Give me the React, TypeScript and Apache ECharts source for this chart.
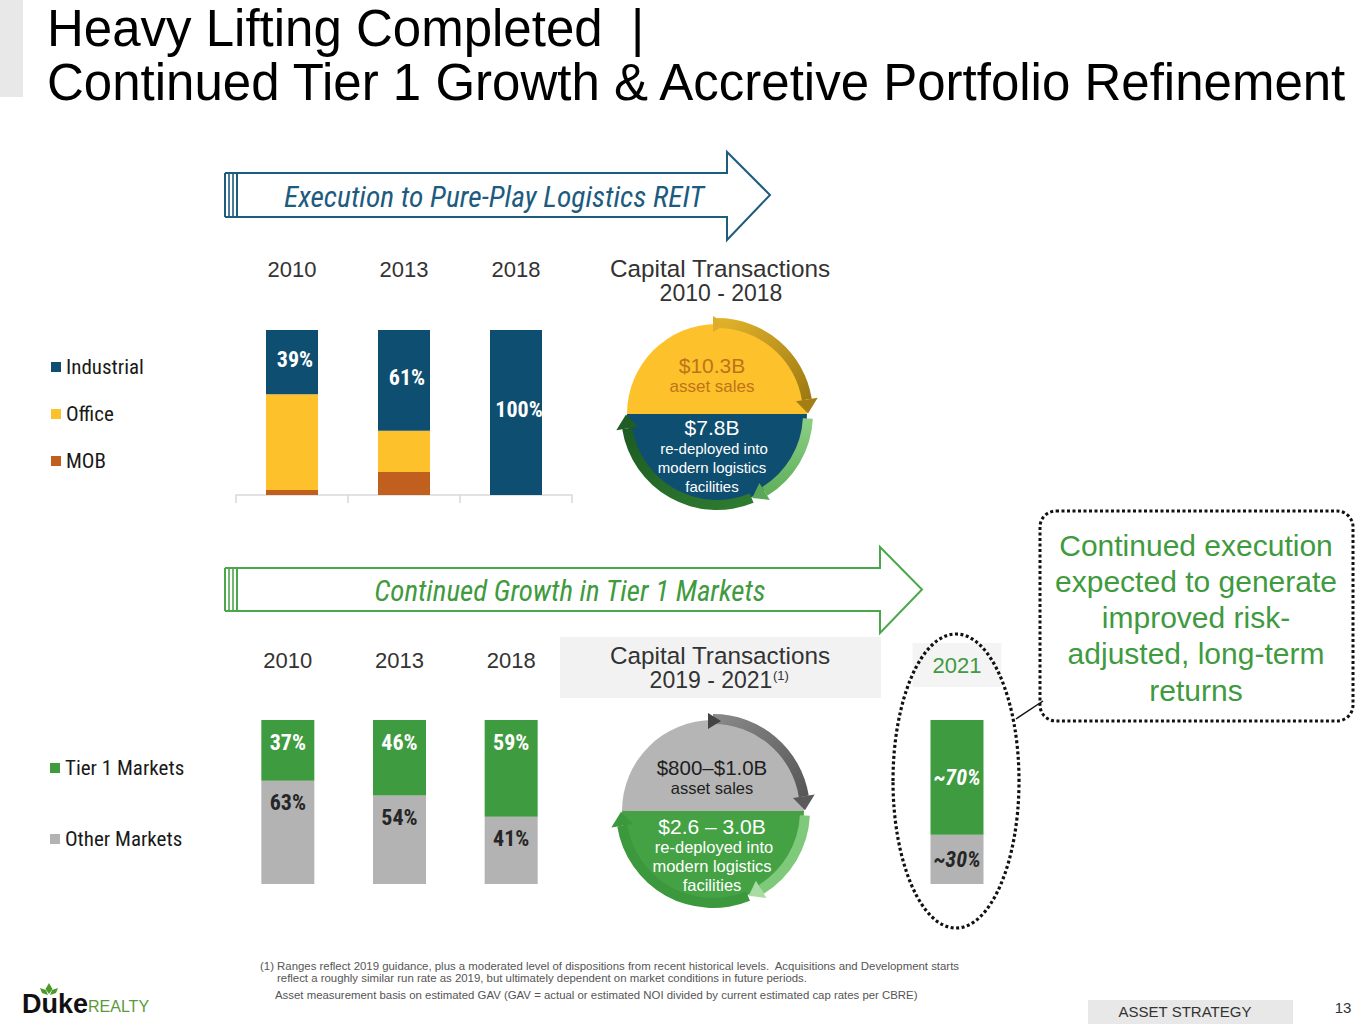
import React, { useEffect, useRef } from "react";
import * as echarts from "echarts";

const titleLines = ["Heavy Lifting Completed  |", "Continued Tier 1 Growth & Accretive Portfolio Refinement"];
const years = ["2010", "2013", "2018"];
const industrial = [39, 61, 100];
const office = [58, 25, 0];
const mob = [3, 14, 0];
const tier1 = [37, 46, 59];
const otherMarkets = [63, 54, 41];
const year2021 = ["2021"];
const tier1In2021 = [70];
const otherIn2021 = [30];
const tier1In2021Labels = ["~70%"];
const otherIn2021Labels = ["~30%"];
const arrowTitles = ["Execution to Pure-Play Logistics REIT", "Continued Growth in Tier 1 Markets"];
const capTxTop = ["Capital Transactions", "2010 - 2018"];
const capTxBottom = ["Capital Transactions", "2019 - 2021", "(1)"];
const circleTop = ["$10.3B", "asset sales", "$7.8B", "re-deployed into", "modern logistics", "facilities"];
const circleBottom = ["$800–$1.0B", "asset sales", "$2.6 – 3.0B", "re-deployed into", "modern logistics", "facilities"];
const calloutLines = ["Continued execution", "expected to generate", "improved risk-", "adjusted, long-term", "returns"];
const footnotes = [
  "(1) Ranges reflect 2019 guidance, plus a moderated level of dispositions from recent historical levels.  Acquisitions and Development starts",
  "reflect a roughly similar run rate as 2019, but ultimately dependent on market conditions in future periods.",
  "Asset measurement basis on estimated GAV (GAV = actual or estimated NOI divided by current estimated cap rates per CBRE)",
];
const pageTag = "ASSET STRATEGY";
const pageNum = "13";

const SANS = "'Liberation Sans', Arial, Helvetica, sans-serif";
const NARROW = "'Liberation Sans Narrow', 'Arial Narrow', 'Roboto Condensed', 'DejaVu Sans Condensed', sans-serif";

const C_IND = "#0e4e70";
const C_OFF = "#fdc12b";
const C_MOB = "#c1601e";
const C_T1 = "#3f9b3f";
const C_OTH = "#b3b3b3";
const C_TEAL = "#1d5b7f";
const C_GREEN_TXT = "#3f9a40";

function T(x: number, y: number, text: string, o: any = {}) {
  const align = o.align ?? "center";
  return {
    type: "text",
    x,
    y,
    silent: true,
    z: 20,
    style: {
      text,
      fill: o.fill ?? "#222",
      fontSize: o.size ?? 16,
      fontFamily: o.family ?? SANS,
      fontWeight: o.weight ?? "normal",
      fontStyle: o.fstyle ?? "normal",
      align,
      verticalAlign: "middle",
      textAlign: align,
      textVerticalAlign: "middle",
    },
  };
}

function arrowHead(cx: number, cy: number, rm: number, halfW: number, angle: number, len: number, fill: any) {
  const a2 = angle + len / rm;
  const p = (r: number, a: number) => [cx + r * Math.cos(a), cy + r * Math.sin(a)];
  return {
    type: "polygon",
    z: 12,
    shape: { points: [p(rm - halfW, angle), p(rm + halfW, angle), p(rm, a2)] },
    style: { fill },
  };
}

function ringSeg(cx: number, cy: number, r0: number, r: number, a0: number, a1: number, fill: any) {
  return {
    type: "sector",
    z: 11,
    shape: { cx, cy, r0, r, startAngle: a0, endAngle: a1, clockwise: true },
    style: { fill },
  };
}

function bigArrow(x0: number, yTop: number, yBot: number, headX: number, headTop: number, headBot: number, tipX: number, stroke: string) {
  const midY = (yTop + yBot) / 2;
  const els: any[] = [
    {
      type: "polygon",
      z: 5,
      shape: {
        points: [
          [x0 + 12, yTop], [headX, yTop], [headX, headTop], [tipX, midY],
          [headX, headBot], [headX, yBot], [x0 + 12, yBot],
        ],
      },
      style: { fill: "#ffffff", stroke, lineWidth: 2 },
    },
  ];
  [0, 4, 8].forEach((dx) => {
    els.push({
      type: "line",
      z: 5,
      shape: { x1: x0 + dx, y1: yTop, x2: x0 + dx, y2: yBot },
      style: { stroke, lineWidth: dx === 0 ? 2 : 1.6 },
    });
  });
  els.push({
    type: "polyline",
    z: 5,
    shape: { points: [[x0, yTop], [x0 + 12, yTop]] },
    style: { stroke, lineWidth: 2 },
  });
  els.push({
    type: "polyline",
    z: 5,
    shape: { points: [[x0, yBot], [x0 + 12, yBot]] },
    style: { stroke, lineWidth: 2 },
  });
  return els;
}

function buildGraphics() {
  const g: any[] = [];
  // title block
  g.push({ type: "rect", z: 1, shape: { x: 0, y: 0, width: 23, height: 97 }, style: { fill: "#e8e8e8" } });
  g.push(T(47, 28, titleLines[0], { size: 51, align: "left", fill: "#000" }));
  g.push(T(47, 82, titleLines[1], { size: 51, align: "left", fill: "#000" }));

  // arrows
  g.push(...bigArrow(225, 173, 217, 727, 152, 240, 770, C_TEAL));
  g.push(T(494, 197, arrowTitles[0], { size: 29.5, family: NARROW, fstyle: "italic", fill: C_TEAL }));
  g.push(...bigArrow(225, 568, 611, 880, 547, 633, 922, "#4aa84b"));
  g.push(T(570, 591, arrowTitles[1], { size: 29, family: NARROW, fstyle: "italic", fill: C_GREEN_TXT }));

  // capital transactions headings
  g.push(T(720, 268, capTxTop[0], { size: 24.3, fill: "#333" }));
  g.push(T(721, 293, capTxTop[1], { size: 23, fill: "#333" }));
  g.push({ type: "rect", z: 1, shape: { x: 560, y: 637, width: 321, height: 61 }, style: { fill: "#f2f2f2" } });
  g.push(T(720, 655, capTxBottom[0], { size: 24.3, fill: "#333" }));
  g.push(T(711, 680, capTxBottom[1], { size: 23, fill: "#333" }));
  g.push(T(773, 675, capTxBottom[2], { size: 13, fill: "#333", align: "left" }));

  // top circle
  const cx1 = 717, cy1 = 414, rf1 = 90;
  g.push({ type: "sector", z: 10, shape: { cx: cx1, cy: cy1, r0: 0, r: rf1, startAngle: Math.PI, endAngle: 2 * Math.PI, clockwise: true }, style: { fill: C_OFF } });
  g.push({ type: "sector", z: 10, shape: { cx: cx1, cy: cy1, r0: 0, r: rf1, startAngle: 0, endAngle: Math.PI, clockwise: true }, style: { fill: C_IND } });
  const gold = new echarts.graphic.LinearGradient(0, 0, 1, 1, [
    { offset: 0, color: "#e3b52c" },
    { offset: 1, color: "#9c7812" },
  ]);
  g.push(ringSeg(cx1, cy1, 86, 96, -Math.PI / 2, -0.16, gold));
  g.push(arrowHead(cx1, cy1, 91, 11, -0.16, 14, "#a47e14"));
  g.push({ type: "polygon", z: 13, shape: { points: [[713, 316], [726, 324], [713, 332]] }, style: { fill: "#e0ad2a" } });
  const lg1 = new echarts.graphic.LinearGradient(0, 0, 0, 1, [
    { offset: 0, color: "#8ccf86" },
    { offset: 1, color: "#5fae59" },
  ]);
  g.push(ringSeg(cx1, cy1, 86, 96, 0.05, 1.02, lg1));
  g.push(arrowHead(cx1, cy1, 91, 10, 1.02, 14, "#5aa855"));
  const dg1 = new echarts.graphic.LinearGradient(1, 1, 0, 0, [
    { offset: 0, color: "#2f7d31" },
    { offset: 1, color: "#1c5a22" },
  ]);
  g.push(ringSeg(cx1, cy1, 86, 96, 1.18, Math.PI - 0.16, dg1));
  g.push(arrowHead(cx1, cy1, 91, 11, Math.PI - 0.16, 14, "#1f5d24"));
  g.push(T(712, 365, circleTop[0], { size: 21, fill: "#bd7419" }));
  g.push(T(712, 386, circleTop[1], { size: 17, fill: "#bd7419" }));
  g.push(T(712, 427, circleTop[2], { size: 21, fill: "#ffffff" }));
  g.push(T(714, 448, circleTop[3], { size: 15, fill: "#ffffff" }));
  g.push(T(712, 467, circleTop[4], { size: 15, fill: "#ffffff" }));
  g.push(T(712, 486, circleTop[5], { size: 15, fill: "#ffffff" }));

  // bottom circle
  const cx2 = 713, cy2 = 811, rf2 = 91;
  g.push({ type: "sector", z: 10, shape: { cx: cx2, cy: cy2, r0: 0, r: rf2, startAngle: Math.PI, endAngle: 2 * Math.PI, clockwise: true }, style: { fill: "#b5b5b5" } });
  g.push({ type: "sector", z: 10, shape: { cx: cx2, cy: cy2, r0: 0, r: rf2, startAngle: 0, endAngle: Math.PI, clockwise: true }, style: { fill: "#44a244" } });
  const grayRing = new echarts.graphic.LinearGradient(0, 0, 1, 1, [
    { offset: 0, color: "#8a8a8a" },
    { offset: 1, color: "#555555" },
  ]);
  g.push(ringSeg(cx2, cy2, 87, 97, -Math.PI / 2, -0.16, grayRing));
  g.push(arrowHead(cx2, cy2, 92, 11, -0.16, 14, "#5a5a5a"));
  g.push({ type: "polygon", z: 13, shape: { points: [[708, 713], [721, 721], [708, 729]] }, style: { fill: "#444" } });
  g.push(ringSeg(cx2, cy2, 87, 97, 0.05, 1.02, "#7fc97a"));
  g.push(arrowHead(cx2, cy2, 92, 10, 1.02, 14, "#a8dca2"));
  g.push(ringSeg(cx2, cy2, 87, 97, 1.18, Math.PI - 0.16, "#3c983c"));
  g.push(arrowHead(cx2, cy2, 92, 11, Math.PI - 0.16, 14, "#3c983c"));
  g.push(T(712, 767, circleBottom[0], { size: 20.5, fill: "#1e1e1e" }));
  g.push(T(712, 788, circleBottom[1], { size: 16.5, fill: "#1e1e1e" }));
  g.push(T(712, 826, circleBottom[2], { size: 21, fill: "#ffffff" }));
  g.push(T(714, 847, circleBottom[3], { size: 16.5, fill: "#ffffff" }));
  g.push(T(712, 866, circleBottom[4], { size: 16.5, fill: "#ffffff" }));
  g.push(T(712, 885, circleBottom[5], { size: 16.5, fill: "#ffffff" }));

  // 2021 dotted ellipse + callout
  g.push({
    type: "ellipse",
    z: 6,
    shape: { cx: 956, cy: 781, rx: 63, ry: 147 },
    style: { fill: null, stroke: "#111", lineWidth: 3.2, lineDash: [3, 2.5] },
  });
  g.push({
    type: "line",
    z: 6,
    shape: { x1: 1016, y1: 719, x2: 1043, y2: 701 },
    style: { stroke: "#111", lineWidth: 1.5 },
  });
  g.push({
    type: "rect",
    z: 6,
    shape: { x: 1040, y: 511, width: 313, height: 210, r: 16 },
    style: { fill: null, stroke: "#111", lineWidth: 3, lineDash: [3, 2.5] },
  });
  calloutLines.forEach((line, i) => {
    g.push(T(1196, 545 + i * 36.3, line, { size: 30, fill: C_GREEN_TXT }));
  });

  // footnotes
  g.push(T(260, 966, footnotes[0], { size: 11.4, fill: "#555", align: "left" }));
  g.push(T(277, 978, footnotes[1], { size: 11.4, fill: "#555", align: "left" }));
  g.push(T(275, 995, footnotes[2], { size: 11.4, fill: "#555", align: "left" }));

  // footer
  g.push({ type: "rect", z: 1, shape: { x: 1088, y: 1000, width: 205, height: 24 }, style: { fill: "#e8e8e8" } });
  g.push(T(1185, 1011, pageTag, { size: 15, fill: "#333" }));
  g.push(T(1343, 1007, pageNum, { size: 15, fill: "#333" }));

  // logo
  g.push(T(22, 1004, "Duke", { size: 27, weight: "bold", fill: "#111", align: "left" }));
  g.push(T(88, 1006, "REALTY", { size: 16, fill: "#5b9a3c", align: "left" }));
  g.push({ type: "polygon", z: 20, shape: { points: [[49, 983], [52.5, 989], [49, 994], [45.5, 989]] }, style: { fill: "#4c9a2a" } });
  g.push({ type: "polygon", z: 20, shape: { points: [[40, 988], [46, 990], [48, 995], [42, 993]] }, style: { fill: "#4c9a2a" } });
  g.push({ type: "polygon", z: 20, shape: { points: [[58, 988], [52, 990], [50, 995], [56, 993]] }, style: { fill: "#4c9a2a" } });

  return g;
}

function buildOption() {
  const pctFmt = (p: any) => `${p.value}%`;
  const whiteLbl = { color: "#ffffff", fontSize: 22, fontWeight: "bold", fontFamily: NARROW };
  const darkLbl = { color: "#262626", fontSize: 22, fontWeight: "bold", fontFamily: NARROW };
  const yearLbl = { fontSize: 22, color: "#333", fontFamily: SANS };
  const legendText = { fontSize: 21, lineHeight: 26, color: "#1a1a1a", fontFamily: NARROW };
  return {
    animation: false,
    backgroundColor: "#ffffff",
    graphic: { elements: buildGraphics() },
    legend: [
      {
        orient: "vertical",
        left: 46,
        top: 349,
        itemGap: 21,
        itemWidth: 10,
        itemHeight: 10,
        icon: "rect",
        selectedMode: false,
        data: ["Industrial", "Office", "MOB"],
        textStyle: legendText,
      },
      {
        orient: "vertical",
        left: 45,
        top: 750,
        itemGap: 45,
        itemWidth: 10,
        itemHeight: 10,
        icon: "rect",
        selectedMode: false,
        data: ["Tier 1 Markets", "Other Markets"],
        textStyle: legendText,
      },
    ],
    grid: [
      { left: 236, top: 330, width: 336, height: 165 },
      { left: 232, top: 720, width: 335, height: 164 },
      { left: 901, top: 720, width: 112, height: 164 },
    ],
    xAxis: [
      {
        gridIndex: 0,
        type: "category",
        data: years,
        position: "bottom",
        axisLine: { show: true, lineStyle: { color: "#d9d9d9", width: 1.5 } },
        axisTick: { show: true, length: 8, lineStyle: { color: "#d9d9d9", width: 1.5 } },
        axisLabel: { show: false },
      },
      {
        gridIndex: 0,
        type: "category",
        data: years,
        position: "top",
        axisLine: { show: false },
        axisTick: { show: false },
        axisLabel: { margin: 50, ...yearLbl },
      },
      {
        gridIndex: 1,
        type: "category",
        data: years,
        position: "top",
        axisLine: { show: false },
        axisTick: { show: false },
        axisLabel: { margin: 49, ...yearLbl },
      },
      {
        gridIndex: 2,
        type: "category",
        data: year2021,
        position: "top",
        axisLine: { show: false },
        axisTick: { show: false },
        axisLabel: {
          margin: 33,
          fontSize: 22,
          color: C_GREEN_TXT,
          fontFamily: SANS,
          backgroundColor: "#f4f4f4",
          padding: [11, 20],
        },
      },
    ],
    yAxis: [
      { gridIndex: 0, type: "value", min: 0, max: 100, show: false },
      { gridIndex: 1, type: "value", min: 0, max: 100, show: false },
      { gridIndex: 2, type: "value", min: 0, max: 100, show: false },
    ],
    series: [
      { name: "MOB", type: "bar", stack: "top", xAxisIndex: 0, yAxisIndex: 0, data: mob, barWidth: 52, itemStyle: { color: C_MOB } },
      { name: "Office", type: "bar", stack: "top", xAxisIndex: 0, yAxisIndex: 0, data: office, barWidth: 52, itemStyle: { color: C_OFF } },
      {
        name: "Industrial",
        type: "bar",
        stack: "top",
        xAxisIndex: 0,
        yAxisIndex: 0,
        data: industrial,
        barWidth: 52,
        itemStyle: { color: C_IND },
        label: { show: true, position: "inside", offset: [3, -3], formatter: pctFmt, ...whiteLbl },
      },
      {
        name: "Other Markets",
        type: "bar",
        stack: "bottom",
        xAxisIndex: 2,
        yAxisIndex: 1,
        data: otherMarkets,
        barWidth: 53,
        itemStyle: { color: C_OTH },
        label: { show: true, position: "insideTop", distance: 11, formatter: pctFmt, ...darkLbl },
      },
      {
        name: "Tier 1 Markets",
        type: "bar",
        stack: "bottom",
        xAxisIndex: 2,
        yAxisIndex: 1,
        data: tier1,
        barWidth: 53,
        itemStyle: { color: C_T1 },
        label: { show: true, position: "insideTop", distance: 11, formatter: pctFmt, ...whiteLbl },
      },
      {
        name: "Other Markets",
        type: "bar",
        stack: "y2021",
        xAxisIndex: 3,
        yAxisIndex: 2,
        data: otherIn2021,
        barWidth: 53,
        itemStyle: { color: C_OTH },
        label: { show: true, position: "inside", formatter: (p: any) => otherIn2021Labels[p.dataIndex], ...darkLbl, fontStyle: "italic" },
      },
      {
        name: "Tier 1 Markets",
        type: "bar",
        stack: "y2021",
        xAxisIndex: 3,
        yAxisIndex: 2,
        data: tier1In2021,
        barWidth: 53,
        itemStyle: { color: C_T1 },
        label: { show: true, position: "inside", formatter: (p: any) => tier1In2021Labels[p.dataIndex], ...whiteLbl, fontStyle: "italic" },
      },
    ],
  };
}

export default function App() {
  const ref = useRef<HTMLDivElement>(null);
  useEffect(() => {
    if (!ref.current) return;
    const chart = echarts.init(ref.current, undefined, { renderer: "svg" });
    chart.setOption(buildOption() as any);
    return () => chart.dispose();
  }, []);
  return (
    <div
      ref={ref}
      style={{ position: "fixed", left: 0, top: 0, width: 1365, height: 1024, background: "#fff" }}
    />
  );
}
